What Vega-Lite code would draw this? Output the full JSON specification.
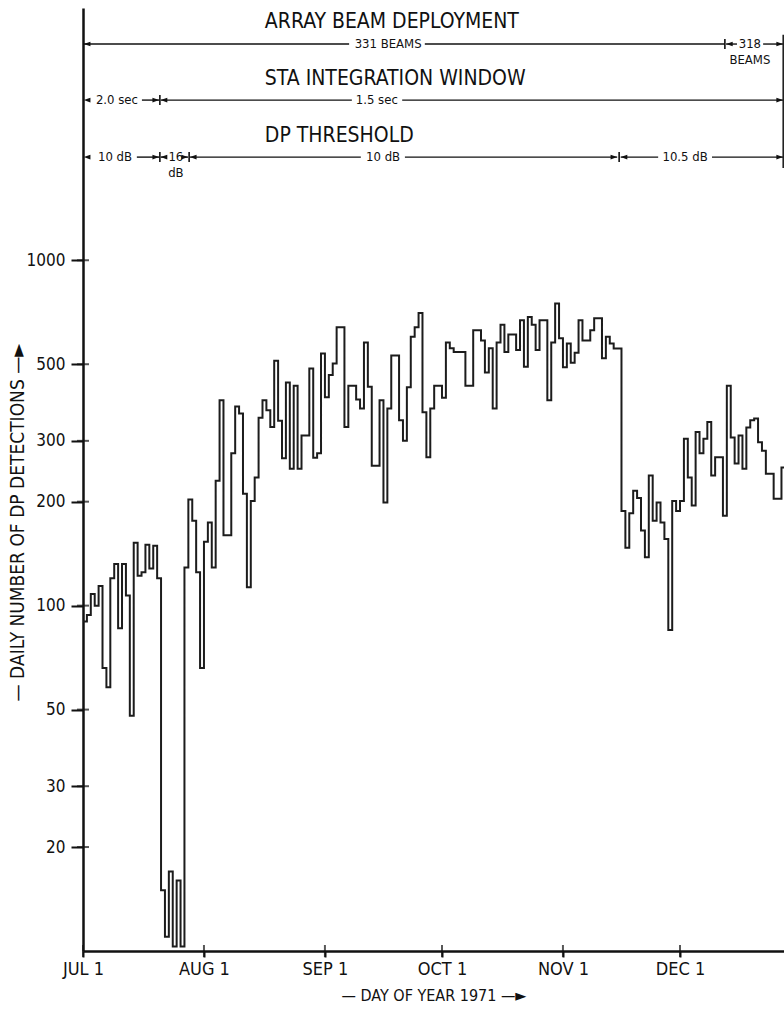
{
  "$schema": "https://vega.github.io/schema/vega-lite/v6.json",
  "width": 701,
  "height": 943,
  "autosize": {"type": "none"},
  "padding": {"left": 83, "top": 8, "right": 0, "bottom": 61},
  "background": "white",
  "config": {"view": {"stroke": null}, "font": "DejaVu Sans Condensed"},
  "datasets": {
    "series": [
      {"date":"1971-07-01","count":90},{"date":"1971-07-02","count":94},{"date":"1971-07-03","count":108},{"date":"1971-07-04","count":100},{"date":"1971-07-05","count":114},{"date":"1971-07-06","count":66},{"date":"1971-07-07","count":58},{"date":"1971-07-08","count":120},{"date":"1971-07-09","count":132},{"date":"1971-07-10","count":86},{"date":"1971-07-11","count":132},{"date":"1971-07-12","count":107},{"date":"1971-07-13","count":48},{"date":"1971-07-14","count":152},{"date":"1971-07-15","count":122},{"date":"1971-07-16","count":125},{"date":"1971-07-17","count":150},{"date":"1971-07-18","count":128},{"date":"1971-07-19","count":149},{"date":"1971-07-20","count":120},{"date":"1971-07-21","count":15},{"date":"1971-07-22","count":11},{"date":"1971-07-23","count":17},{"date":"1971-07-24","count":10.3},{"date":"1971-07-25","count":16},{"date":"1971-07-26","count":10.3},{"date":"1971-07-27","count":129},{"date":"1971-07-28","count":203},{"date":"1971-07-29","count":176},{"date":"1971-07-30","count":125},{"date":"1971-07-31","count":66},
      {"date":"1971-08-01","count":153},{"date":"1971-08-02","count":174},{"date":"1971-08-03","count":129},{"date":"1971-08-04","count":230},{"date":"1971-08-05","count":393},{"date":"1971-08-06","count":160},{"date":"1971-08-07","count":160},{"date":"1971-08-08","count":276},{"date":"1971-08-09","count":377},{"date":"1971-08-10","count":360},{"date":"1971-08-11","count":211},{"date":"1971-08-12","count":113},{"date":"1971-08-13","count":201},{"date":"1971-08-14","count":235},{"date":"1971-08-15","count":350},{"date":"1971-08-16","count":393},{"date":"1971-08-17","count":368},{"date":"1971-08-18","count":329},{"date":"1971-08-19","count":512},{"date":"1971-08-20","count":343},{"date":"1971-08-21","count":267},{"date":"1971-08-22","count":443},{"date":"1971-08-23","count":249},{"date":"1971-08-24","count":433},{"date":"1971-08-25","count":249},{"date":"1971-08-26","count":311},{"date":"1971-08-27","count":311},{"date":"1971-08-28","count":486},{"date":"1971-08-29","count":268},{"date":"1971-08-30","count":276},{"date":"1971-08-31","count":537},
      {"date":"1971-09-01","count":401},{"date":"1971-09-02","count":465},{"date":"1971-09-03","count":502},{"date":"1971-09-04","count":640},{"date":"1971-09-05","count":640},{"date":"1971-09-06","count":329},{"date":"1971-09-07","count":433},{"date":"1971-09-08","count":433},{"date":"1971-09-09","count":395},{"date":"1971-09-10","count":372},{"date":"1971-09-11","count":578},{"date":"1971-09-12","count":430},{"date":"1971-09-13","count":254},{"date":"1971-09-14","count":254},{"date":"1971-09-15","count":393},{"date":"1971-09-16","count":199},{"date":"1971-09-17","count":372},{"date":"1971-09-18","count":530},{"date":"1971-09-19","count":530},{"date":"1971-09-20","count":344},{"date":"1971-09-21","count":300},{"date":"1971-09-22","count":429},{"date":"1971-09-23","count":600},{"date":"1971-09-24","count":640},{"date":"1971-09-25","count":704},{"date":"1971-09-26","count":363},{"date":"1971-09-27","count":269},{"date":"1971-09-28","count":372},{"date":"1971-09-29","count":433},{"date":"1971-09-30","count":433},
      {"date":"1971-10-01","count":400},{"date":"1971-10-02","count":578},{"date":"1971-10-03","count":556},{"date":"1971-10-04","count":542},{"date":"1971-10-05","count":542},{"date":"1971-10-06","count":542},{"date":"1971-10-07","count":433},{"date":"1971-10-08","count":433},{"date":"1971-10-09","count":627},{"date":"1971-10-10","count":627},{"date":"1971-10-11","count":586},{"date":"1971-10-12","count":473},{"date":"1971-10-13","count":556},{"date":"1971-10-14","count":372},{"date":"1971-10-15","count":578},{"date":"1971-10-16","count":650},{"date":"1971-10-17","count":542},{"date":"1971-10-18","count":610},{"date":"1971-10-19","count":610},{"date":"1971-10-20","count":550},{"date":"1971-10-21","count":670},{"date":"1971-10-22","count":492},{"date":"1971-10-23","count":685},{"date":"1971-10-24","count":650},{"date":"1971-10-25","count":550},{"date":"1971-10-26","count":670},{"date":"1971-10-27","count":670},{"date":"1971-10-28","count":393},{"date":"1971-10-29","count":578},{"date":"1971-10-30","count":750},{"date":"1971-10-31","count":595},
      {"date":"1971-11-01","count":490},{"date":"1971-11-02","count":574},{"date":"1971-11-03","count":505},{"date":"1971-11-04","count":540},{"date":"1971-11-05","count":670},{"date":"1971-11-06","count":586},{"date":"1971-11-07","count":586},{"date":"1971-11-08","count":627},{"date":"1971-11-09","count":679},{"date":"1971-11-10","count":679},{"date":"1971-11-11","count":520},{"date":"1971-11-12","count":600},{"date":"1971-11-13","count":574},{"date":"1971-11-14","count":555},{"date":"1971-11-15","count":555},{"date":"1971-11-16","count":188},{"date":"1971-11-17","count":147},{"date":"1971-11-18","count":185},{"date":"1971-11-19","count":215},{"date":"1971-11-20","count":205},{"date":"1971-11-21","count":165},{"date":"1971-11-22","count":138},{"date":"1971-11-23","count":238},{"date":"1971-11-24","count":176},{"date":"1971-11-25","count":199},{"date":"1971-11-26","count":174},{"date":"1971-11-27","count":156},{"date":"1971-11-28","count":85},{"date":"1971-11-29","count":201},{"date":"1971-11-30","count":188},
      {"date":"1971-12-01","count":201},{"date":"1971-12-02","count":304},{"date":"1971-12-03","count":235},{"date":"1971-12-04","count":195},{"date":"1971-12-05","count":318},{"date":"1971-12-06","count":276},{"date":"1971-12-07","count":304},{"date":"1971-12-08","count":340},{"date":"1971-12-09","count":238},{"date":"1971-12-10","count":269},{"date":"1971-12-11","count":269},{"date":"1971-12-12","count":182},{"date":"1971-12-13","count":433},{"date":"1971-12-14","count":307},{"date":"1971-12-15","count":258},{"date":"1971-12-16","count":311},{"date":"1971-12-17","count":249},{"date":"1971-12-18","count":328},{"date":"1971-12-19","count":344},{"date":"1971-12-20","count":348},{"date":"1971-12-21","count":297},{"date":"1971-12-22","count":281},{"date":"1971-12-23","count":241},{"date":"1971-12-24","count":241},{"date":"1971-12-25","count":204},{"date":"1971-12-26","count":204},{"date":"1971-12-27","count":251},{"date":"1971-12-28","count":251},{"date":"1971-12-29","count":251}
    ],
    "yticks": [{"tick":20},{"tick":30},{"tick":50},{"tick":100},{"tick":200},{"tick":300},{"tick":500},{"tick":1000}],
    "xticks": [{"date":"1971-07-01"},{"date":"1971-08-01"},{"date":"1971-09-01"},{"date":"1971-10-01"},{"date":"1971-11-01"},{"date":"1971-12-01"}],
    "segments": [
      {"start":"1971-07-01T00:00:00Z","end":"1971-09-07T04:48:00Z","level":4227},
      {"start":"1971-09-26T14:24:00Z","end":"1971-12-12T12:00:00Z","level":4227},
      {"start":"1971-12-12T19:12:00Z","end":"1971-12-15T14:24:00Z","level":4227},
      {"start":"1971-12-22T07:12:00Z","end":"1971-12-27T09:36:00Z","level":4227},
      {"start":"1971-07-16T02:24:00Z","end":"1971-07-20T12:00:00Z","level":2909},
      {"start":"1971-07-20T21:36:00Z","end":"1971-09-07T21:36:00Z","level":2909},
      {"start":"1971-09-20T19:12:00Z","end":"1971-12-27T09:36:00Z","level":2909},
      {"start":"1971-07-14T19:12:00Z","end":"1971-07-20T12:00:00Z","level":1989},
      {"start":"1971-07-20T21:36:00Z","end":"1971-07-22T04:48:00Z","level":1989},
      {"start":"1971-07-27T02:24:00Z","end":"1971-07-27T21:36:00Z","level":1989},
      {"start":"1971-07-28T09:36:00Z","end":"1971-09-10T04:48:00Z","level":1989},
      {"start":"1971-09-21T12:00:00Z","end":"1971-11-14T21:36:00Z","level":1989},
      {"start":"1971-11-15T19:12:00Z","end":"1971-11-25T09:36:00Z","level":1989},
      {"start":"1971-12-09T04:48:00Z","end":"1971-12-27T09:36:00Z","level":1989}
    ],
    "arrows": [
      {"date":"1971-07-01T04:48:00Z","level":4227,"dir":"left"},
      {"date":"1971-12-12T19:12:00Z","level":4227,"dir":"left"},
      {"date":"1971-12-27T09:36:00Z","level":4227,"dir":"right"},
      {"date":"1971-07-01T04:48:00Z","level":2909,"dir":"left"},
      {"date":"1971-07-20T12:00:00Z","level":2909,"dir":"right"},
      {"date":"1971-07-20T21:36:00Z","level":2909,"dir":"left"},
      {"date":"1971-12-27T09:36:00Z","level":2909,"dir":"right"},
      {"date":"1971-07-01T04:48:00Z","level":1989,"dir":"left"},
      {"date":"1971-07-20T12:00:00Z","level":1989,"dir":"right"},
      {"date":"1971-07-20T21:36:00Z","level":1989,"dir":"left"},
      {"date":"1971-07-27T21:36:00Z","level":1989,"dir":"right"},
      {"date":"1971-07-28T09:36:00Z","level":1989,"dir":"left"},
      {"date":"1971-11-14T21:36:00Z","level":1989,"dir":"right"},
      {"date":"1971-11-15T19:12:00Z","level":1989,"dir":"left"},
      {"date":"1971-12-27T09:36:00Z","level":1989,"dir":"right"}
    ],
    "bars": [
      {"date":"1971-12-12T12:00:00Z","level":4227},
      {"date":"1971-07-20T16:48:00Z","level":2909},
      {"date":"1971-07-20T16:48:00Z","level":1989},
      {"date":"1971-07-28T04:48:00Z","level":1989},
      {"date":"1971-11-15T09:36:00Z","level":1989}
    ],
    "bracket": [
      {"date":"1971-12-27T12:00:00Z","low":1850,"high":4500}
    ],
    "notes": [
      {"date":"1971-09-17T04:48:00Z","level":4227,"label":"331 BEAMS"},
      {"date":"1971-12-18T21:36:00Z","level":4227,"label":"318"},
      {"date":"1971-12-18T21:36:00Z","level":3799,"label":"BEAMS"},
      {"date":"1971-07-09T16:48:00Z","level":2909,"label":"2.0 sec"},
      {"date":"1971-09-14T07:12:00Z","level":2909,"label":"1.5 sec"},
      {"date":"1971-07-09T04:48:00Z","level":1989,"label":"10 dB"},
      {"date":"1971-07-24T19:12:00Z","level":1989,"label":"16"},
      {"date":"1971-07-24T19:12:00Z","level":1787,"label":"dB"},
      {"date":"1971-09-15T21:36:00Z","level":1989,"label":"10 dB"},
      {"date":"1971-12-02T07:12:00Z","level":1989,"label":"10.5 dB"}
    ],
    "headers": [
      {"date":"1971-08-16T14:24:00Z","level":4896,"label":"ARRAY BEAM DEPLOYMENT"},
      {"date":"1971-08-16T14:24:00Z","level":3346,"label":"STA INTEGRATION WINDOW"},
      {"date":"1971-08-16T14:24:00Z","level":2288,"label":"DP THRESHOLD"}
    ]
  },
  "layer": [
    {
      "data": {"name": "series"},
      "mark": {"type": "line", "interpolate": "step-after", "color": "#1c1c1c", "strokeWidth": 2, "clip": true},
      "encoding": {
        "x": {
          "field": "date", "type": "temporal",
          "title": "— DAY OF YEAR 1971 —►",
          "scale": {"type": "utc", "nice": false, "domain": [{"year":1971,"month":7,"date":1,"utc":true},{"year":1971,"month":12,"date":27,"hours":15,"minutes":36,"utc":true}]},
          "axis": {
            "values": [{"year":1971,"month":7,"date":1,"utc":true},{"year":1971,"month":8,"date":1,"utc":true},{"year":1971,"month":9,"date":1,"utc":true},{"year":1971,"month":10,"date":1,"utc":true},{"year":1971,"month":11,"date":1,"utc":true},{"year":1971,"month":12,"date":1,"utc":true}],
            "labelExpr": "upper(utcFormat(datum.value, '%b')) + ' 1'",
            "title": "— DAY OF YEAR 1971 —►",
            "grid": false, "domainColor": "#111", "domainWidth": 2.5,
            "tickColor": "#111", "tickWidth": 2, "tickSize": 6,
            "labelPadding": 3, "labelFontSize": 18, "labelColor": "#111",
            "labelOverlap": false, "labelFlush": false,
            "titleFontSize": 16, "titleFontWeight": "normal", "titleColor": "#111",
            "titleY": 44, "titleBaseline": "middle"
          }
        },
        "y": {
          "field": "count", "type": "quantitative",
          "title": "— DAILY NUMBER OF DP DETECTIONS —►",
          "scale": {"type": "log", "nice": false, "domain": [10, 5375]},
          "axis": {
            "values": [20, 30, 50, 100, 200, 300, 500, 1000],
            "format": "d",
            "title": "— DAILY NUMBER OF DP DETECTIONS —►",
            "grid": false, "domainColor": "#111", "domainWidth": 2.5,
            "tickColor": "#111", "tickWidth": 2, "tickSize": 12,
            "labelPadding": 6, "labelFontSize": 17, "labelColor": "#111",
            "titleFontSize": 19, "titleFontWeight": "normal", "titleColor": "#111",
            "titleAngle": 270, "titleX": -66, "titleY": 514, "titleAlign": "center", "titleBaseline": "middle"
          }
        }
      }
    },
    {
      "data": {"name": "yticks"},
      "mark": {"type": "tick", "orient": "horizontal", "size": 12, "thickness": 2, "color": "#111"},
      "encoding": {
        "x": {"datum": {"year":1971,"month":7,"date":1,"utc":true}, "type": "temporal",
              "scale": {"type": "utc", "nice": false, "domain": [{"year":1971,"month":7,"date":1,"utc":true},{"year":1971,"month":12,"date":27,"hours":15,"minutes":36,"utc":true}]}},
        "y": {"field": "tick", "type": "quantitative", "scale": {"type": "log", "nice": false, "domain": [10, 5375]}}
      }
    },
    {
      "data": {"name": "xticks"},
      "mark": {"type": "tick", "orient": "vertical", "size": 12, "thickness": 2, "color": "#111"},
      "encoding": {
        "x": {"field": "date", "type": "temporal",
              "scale": {"type": "utc", "nice": false, "domain": [{"year":1971,"month":7,"date":1,"utc":true},{"year":1971,"month":12,"date":27,"hours":15,"minutes":36,"utc":true}]}},
        "y": {"datum": 10, "type": "quantitative", "scale": {"type": "log", "nice": false, "domain": [10, 5375]}}
      }
    },
    {
      "data": {"name": "segments"},
      "mark": {"type": "rule", "color": "#111", "strokeWidth": 1.4},
      "encoding": {
        "x": {"field": "start", "type": "temporal",
              "scale": {"type": "utc", "nice": false, "domain": [{"year":1971,"month":7,"date":1,"utc":true},{"year":1971,"month":12,"date":27,"hours":15,"minutes":36,"utc":true}]}},
        "x2": {"field": "end"},
        "y": {"field": "level", "type": "quantitative", "scale": {"type": "log", "nice": false, "domain": [10, 5375]}}
      }
    },
    {
      "data": {"name": "bracket"},
      "mark": {"type": "rule", "color": "#222", "strokeWidth": 2},
      "encoding": {
        "x": {"field": "date", "type": "temporal",
              "scale": {"type": "utc", "nice": false, "domain": [{"year":1971,"month":7,"date":1,"utc":true},{"year":1971,"month":12,"date":27,"hours":15,"minutes":36,"utc":true}]}},
        "y": {"field": "low", "type": "quantitative", "scale": {"type": "log", "nice": false, "domain": [10, 5375]}},
        "y2": {"field": "high"}
      }
    },
    {
      "data": {"name": "arrows"},
      "mark": {"type": "point", "filled": true, "size": 44, "color": "#111", "opacity": 1},
      "encoding": {
        "x": {"field": "date", "type": "temporal",
              "scale": {"type": "utc", "nice": false, "domain": [{"year":1971,"month":7,"date":1,"utc":true},{"year":1971,"month":12,"date":27,"hours":15,"minutes":36,"utc":true}]}},
        "y": {"field": "level", "type": "quantitative", "scale": {"type": "log", "nice": false, "domain": [10, 5375]}},
        "shape": {"field": "dir", "type": "nominal", "legend": null,
                  "scale": {"domain": ["left", "right"], "range": ["M0,0L2,-0.7L2,0.7Z", "M0,0L-2,-0.7L-2,0.7Z"]}}
      }
    },
    {
      "data": {"name": "bars"},
      "mark": {"type": "point", "filled": false, "size": 100, "color": "#111", "strokeWidth": 1.6, "opacity": 1, "shape": "M0,-1L0,1"},
      "encoding": {
        "x": {"field": "date", "type": "temporal",
              "scale": {"type": "utc", "nice": false, "domain": [{"year":1971,"month":7,"date":1,"utc":true},{"year":1971,"month":12,"date":27,"hours":15,"minutes":36,"utc":true}]}},
        "y": {"field": "level", "type": "quantitative", "scale": {"type": "log", "nice": false, "domain": [10, 5375]}}
      }
    },
    {
      "data": {"name": "notes"},
      "mark": {"type": "text", "fontSize": 13, "color": "#111", "align": "center", "baseline": "middle"},
      "encoding": {
        "x": {"field": "date", "type": "temporal",
              "scale": {"type": "utc", "nice": false, "domain": [{"year":1971,"month":7,"date":1,"utc":true},{"year":1971,"month":12,"date":27,"hours":15,"minutes":36,"utc":true}]}},
        "y": {"field": "level", "type": "quantitative", "scale": {"type": "log", "nice": false, "domain": [10, 5375]}},
        "text": {"field": "label", "type": "nominal"}
      }
    },
    {
      "data": {"name": "headers"},
      "mark": {"type": "text", "fontSize": 21, "color": "#111", "align": "left", "baseline": "middle"},
      "encoding": {
        "x": {"field": "date", "type": "temporal",
              "scale": {"type": "utc", "nice": false, "domain": [{"year":1971,"month":7,"date":1,"utc":true},{"year":1971,"month":12,"date":27,"hours":15,"minutes":36,"utc":true}]}},
        "y": {"field": "level", "type": "quantitative", "scale": {"type": "log", "nice": false, "domain": [10, 5375]}},
        "text": {"field": "label", "type": "nominal"}
      }
    }
  ]
}
